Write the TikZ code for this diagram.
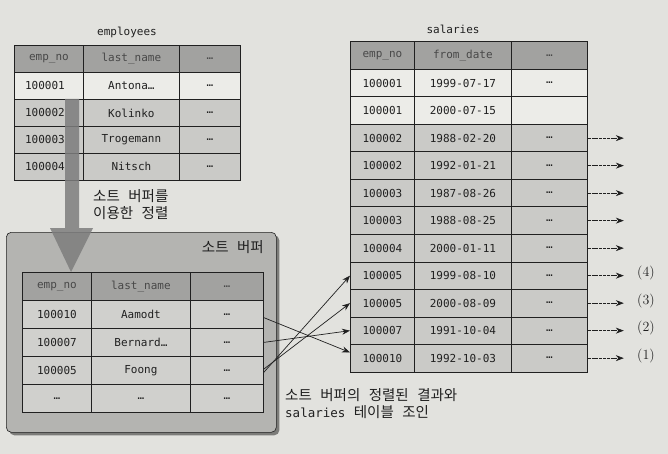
\documentclass[tikz,border=0pt]{standalone}
\usepackage{fontspec}
\setmonofont{DejaVu Sans Mono}
\newfontfamily\kr{Noto Sans CJK KR}[WordSpace=2.6]
\usetikzlibrary{arrows.meta,shadows}
\definecolor{paper}{RGB}{226,226,222}
\definecolor{hdr}{RGB}{162,162,160}
\definecolor{rowg}{RGB}{202,202,199}
\definecolor{roww}{RGB}{236,236,232}
\definecolor{buf}{RGB}{180,180,177}
\definecolor{bufrow}{RGB}{208,208,205}
\definecolor{ink}{RGB}{32,32,32}
\definecolor{hdrink}{RGB}{72,72,72}
\definecolor{arr}{RGB}{125,125,125}
\begin{document}
\begin{tikzpicture}[x=1pt,y=-1pt,
  cell/.style={draw=ink, line width=0.8pt, inner sep=0pt, anchor=north west,
    font=\ttfamily\fontsize{11}{12}\selectfont, text=ink},
  hcell/.style={cell, fill=hdr, text=hdrink},
  lbl/.style={font=\ttfamily\fontsize{11}{12}\selectfont, text=ink},
  krl/.style={font=\kr\fontsize{14.5}{17}\selectfont, text=ink, align=left, inner sep=0pt},
  xarr/.style={draw=ink, line width=0.7pt, -{Stealth[length=8pt,width=6pt]}},
  rarr/.style={draw=ink, line width=0.7pt, dash pattern=on 3pt off 0.8pt, -{Stealth[length=8pt,width=6pt]}},
  numl/.style={font=\fontsize{14}{16}\selectfont, text=ink}]
\fill[paper] (0,0) rectangle (668,454);
\useasboundingbox (0,0) rectangle (668,454);

% ---------------- employees ----------------
\node[lbl] (emplbl) at (127,32) {employees};
\node[hcell, minimum width=69, minimum height=27] (e0-1) at (14,45) {emp\_no};
\node[hcell, minimum width=96, minimum height=27] (e0-2) at (83,45) {last\_name};
\node[hcell, minimum width=61, minimum height=27] (e0-3) at (179,45) {…};
\foreach \a/\b [count=\i] in {100001/Antona…, 100002/Kolinko, 100003/Trogemann, 100004/Nitsch}{
  \ifnum\i<2 \def\f{roww}\else\def\f{rowg}\fi
  \pgfmathsetmacro\yy{45+\i*27}
  \node[cell, fill=\f, minimum width=69, minimum height=27] (e\i-1) at (14,\yy) {\a\hspace*{8pt}};
  \node[cell, fill=\f, minimum width=96, minimum height=27] (e\i-2) at (83,\yy) {\b};
  \node[cell, fill=\f, minimum width=61, minimum height=27] (e\i-3) at (179,\yy) {…};
}

% ---------------- salaries ----------------
\node[lbl] (sallbl) at (453,29) {salaries};
\node[hcell, minimum width=64, minimum height=28] (s0-1) at (350,41) {emp\_no};
\node[hcell, minimum width=97, minimum height=28] (s0-2) at (414,41) {from\_date};
\node[hcell, minimum width=76, minimum height=28] (s0-3) at (511,41) {…};
\foreach \a/\b/\c [count=\i] in {
  100001/1999-07-17/…, 100001/2000-07-15/{}, 100002/1988-02-20/…,
  100002/1992-01-21/…, 100003/1987-08-26/…, 100003/1988-08-25/…,
  100004/2000-01-11/…, 100005/1999-08-10/…, 100005/2000-08-09/…,
  100007/1991-10-04/…, 100010/1992-10-03/…}{
  \ifnum\i<3 \def\f{roww}\else\def\f{rowg}\fi
  \pgfmathsetmacro\yy{69+(\i-1)*27.5}
  \node[cell, fill=\f, minimum width=64, minimum height=27.5] (s\i-1) at (350,\yy) {\a};
  \node[cell, fill=\f, minimum width=97, minimum height=27.5] (s\i-2) at (414,\yy) {\b};
  \node[cell, fill=\f, minimum width=76, minimum height=27.5] (s\i-3) at (511,\yy) {\c};
}
\foreach \i in {3,...,11}{
  \draw[rarr] (s\i-3.east) -- ++(36,0);
}
\node[numl] (n4) at (646,273.25) {(4)};
\node[numl] (n3) at (646,300.75) {(3)};
\node[numl] (n2) at (646,328.25) {(2)};
\node[numl] (n1) at (646,355.75) {(1)};

% ---------------- sort buffer ----------------
\node[draw=ink, line width=0.6pt, fill=buf, rounded corners=5pt, anchor=north west,
  minimum width=270, minimum height=200,
  drop shadow={shadow xshift=3pt, shadow yshift=-3pt, fill=black, opacity=0.45}] (buf) at (6,232) {};
\node[krl, anchor=north east] (buflbl) at (264,240) {소트 버퍼};
\node[hcell, minimum width=69, minimum height=28] (b0-1) at (22,272) {emp\_no};
\node[hcell, minimum width=99, minimum height=28] (b0-2) at (91,272) {last\_name};
\node[hcell, minimum width=73, minimum height=28] (b0-3) at (190,272) {…};
\foreach \a/\b [count=\i] in {100010/Aamodt, 100007/Bernard…, 100005/Foong, …/…}{
  \pgfmathsetmacro\yy{272+\i*28}
  \node[cell, fill=bufrow, minimum width=69, minimum height=28] (b\i-1) at (22,\yy) {\a};
  \node[cell, fill=bufrow, minimum width=99, minimum height=28] (b\i-2) at (91,\yy) {\b};
  \node[cell, fill=bufrow, minimum width=73, minimum height=28] (b\i-3) at (190,\yy) {…};
}

% big sorting arrow
\fill[arr, opacity=0.85] (65,99) -- (79,99) -- (79,228) -- (93,228) -- (71,272)
  -- (50,228) -- (65,228) -- cycle;
\node[krl, anchor=north west] (sortlbl) at (93,189) {소트 버퍼를\\이용한 정렬};

% join arrows
\draw[xarr] (b1-3.-5) -- (s11-1.170);
\draw[xarr] (b2-3.east) -- (s10-1.west);
\draw[xarr] (b3-3.2) -- (s9-1.west);
\draw[xarr] (b3-3.-3) -- (s8-1.west);

\node[krl, anchor=north west] (joinlbl) at (285,388) {소트 버퍼의 정렬된 결과와\\{\ttfamily\fontsize{12.5}{13}\selectfont salaries} 테이블 조인};
\end{tikzpicture}
\end{document}
